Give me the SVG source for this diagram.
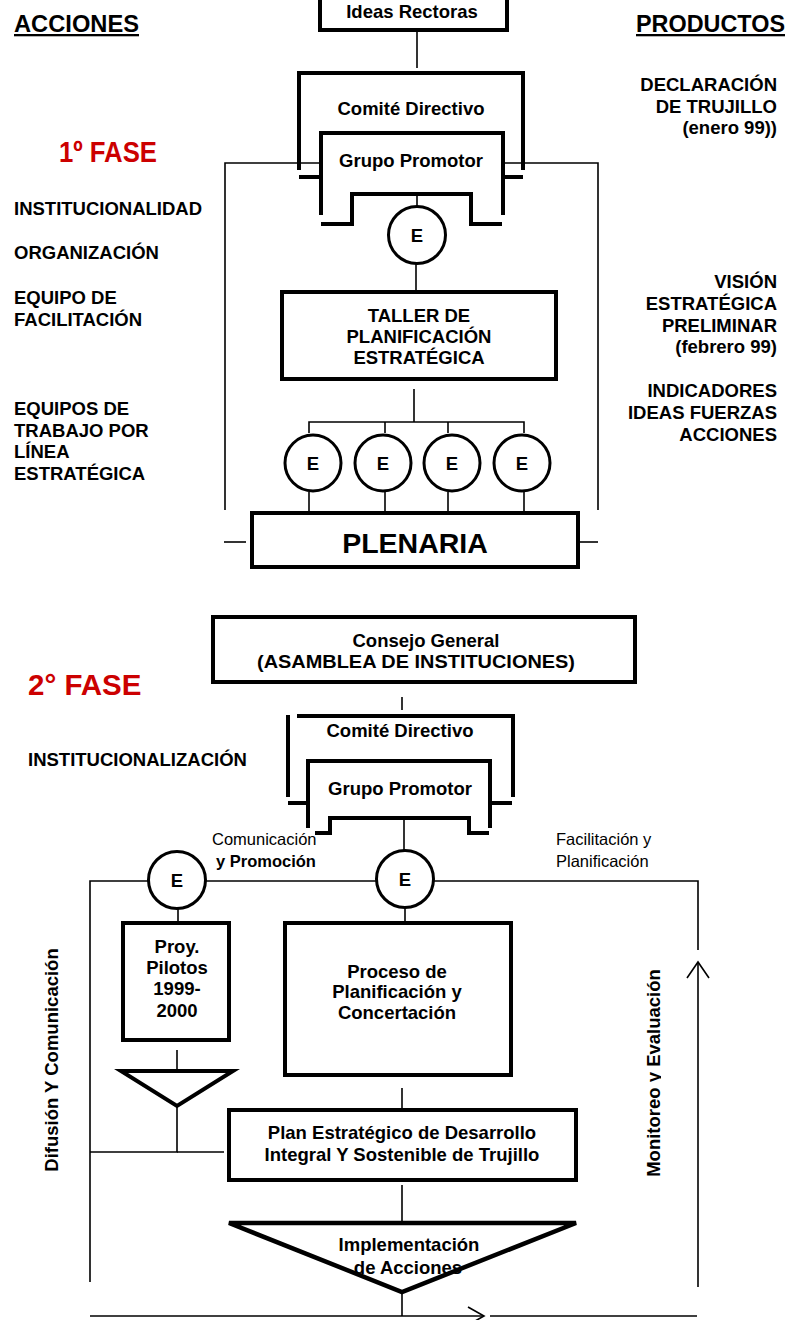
<svg xmlns="http://www.w3.org/2000/svg" width="789" height="1320" viewBox="0 0 789 1320">
<defs>
<style>
text{font-family:"Liberation Sans",Arial,sans-serif;fill:#000}
.b{font-weight:bold;font-size:18.5px}
.r{font-weight:normal;font-size:16.5px}
.m{text-anchor:middle}
.e{text-anchor:end}
.red{fill:#cc0000;font-weight:bold}
.thick{fill:none;stroke:#000;stroke-width:4}
.thin{fill:none;stroke:#000;stroke-width:1.6}
.box{fill:#fff;stroke:#000;stroke-width:4}
.circ{fill:#fff;stroke:#000;stroke-width:3}
</style>
<clipPath id="clipM"><rect x="600" y="900" width="61" height="320"/></clipPath>
</defs>
<rect width="789" height="1320" fill="#fff"/>

<g id="headers">
<text class="b" x="14" y="32" textLength="125" lengthAdjust="spacingAndGlyphs" text-decoration="underline" style="font-size:23px">ACCIONES</text>
<text class="b" x="636" y="32" textLength="149" lengthAdjust="spacingAndGlyphs" text-decoration="underline" style="font-size:23px">PRODUCTOS</text>
</g>

<g id="left-labels">
<text class="red" x="59" y="162" textLength="98" lengthAdjust="spacingAndGlyphs" style="font-size:30px">1º FASE</text>
<text class="b" x="14" y="215">INSTITUCIONALIDAD</text>
<text class="b" x="14" y="259">ORGANIZACIÓN</text>
<text class="b" x="14" y="304">EQUIPO DE</text>
<text class="b" x="14" y="326">FACILITACIÓN</text>
<text class="b" x="14" y="415">EQUIPOS DE</text>
<text class="b" x="14" y="437">TRABAJO POR</text>
<text class="b" x="14" y="458">LÍNEA</text>
<text class="b" x="14" y="480">ESTRATÉGICA</text>
<text class="red" x="28" y="695" style="font-size:29.5px">2° FASE</text>
<text class="b" x="28" y="766">INSTITUCIONALIZACIÓN</text>
</g>

<g id="right-labels">
<text class="b e" x="777" y="91">DECLARACIÓN</text>
<text class="b e" x="777" y="113">DE TRUJILLO</text>
<text class="b e" x="777" y="134">(enero 99))</text>
<text class="b e" x="777" y="288">VISIÓN</text>
<text class="b e" x="777" y="310">ESTRATÉGICA</text>
<text class="b e" x="777" y="332">PRELIMINAR</text>
<text class="b e" x="777" y="353">(febrero 99)</text>
<text class="b e" x="777" y="397">INDICADORES</text>
<text class="b e" x="777" y="419">IDEAS FUERZAS</text>
<text class="b e" x="777" y="441">ACCIONES</text>
</g>

<g id="connectors">
<line class="thin" x1="417" y1="30" x2="417" y2="68"/>
<polyline class="thin" points="225,510 225,163 321,163"/>
<polyline class="thin" points="503,163 598,163 598,510"/>
<line class="thin" x1="417" y1="194" x2="417" y2="207"/>
<line class="thin" x1="416" y1="264" x2="416" y2="292"/>
<line class="thin" x1="414" y1="389" x2="414" y2="422"/>
<polyline class="thin" points="309,433 309,422 524,422 524,433"/>
<line class="thin" x1="385" y1="422" x2="385" y2="433"/>
<line class="thin" x1="448" y1="422" x2="448" y2="433"/>
<line class="thin" x1="309" y1="492" x2="309" y2="513"/>
<line class="thin" x1="385" y1="492" x2="385" y2="513"/>
<line class="thin" x1="448" y1="492" x2="448" y2="513"/>
<line class="thin" x1="524" y1="492" x2="524" y2="513"/>
<line class="thin" x1="224" y1="542" x2="246" y2="542"/>
<line class="thin" x1="580" y1="542" x2="598" y2="542"/>
<line class="thin" x1="402" y1="697" x2="402" y2="710"/>
<line class="thin" x1="404" y1="818" x2="404" y2="850"/>
<polyline class="thin" points="90,1282 90,881 149,881"/>
<line class="thin" x1="206" y1="881" x2="376" y2="881"/>
<polyline class="thin" points="434,881 698,881 698,950"/>
<line class="thin" x1="698" y1="962" x2="698" y2="1287"/>
<polyline class="thin" points="687,978 698,962 709,978"/>
<line class="thin" x1="178" y1="908" x2="178" y2="923"/>
<line class="thin" x1="405" y1="908" x2="405" y2="923"/>
<line class="thin" x1="177" y1="1050" x2="177" y2="1070"/>
<polyline class="thin" points="177,1106 177,1152 90,1152"/>
<line class="thin" x1="177" y1="1152" x2="224" y2="1152"/>
<line class="thin" x1="402" y1="1088" x2="402" y2="1108"/>
<line class="thin" x1="402" y1="1185" x2="402" y2="1221"/>
<line class="thin" x1="402" y1="1293" x2="402" y2="1316"/>
<line class="thin" x1="90" y1="1316" x2="484" y2="1316"/>
<polyline class="thin" points="468,1307 484,1316 468,1325"/>
<line class="thin" x1="490" y1="1316" x2="697" y2="1316"/>
</g>

<g id="ideas-rectoras">
<rect class="box" x="320" y="-25" width="187" height="55"/>
<text class="b m" x="412" y="18">Ideas Rectoras</text>
</g>

<g id="comite-directivo-1">
<polyline class="thick" points="299,170 299,73 523,73 523,170"/>
<line class="thick" x1="299" y1="177" x2="321" y2="177"/>
<line class="thick" x1="503" y1="177" x2="523" y2="177"/>
<text class="b m" x="411" y="115">Comité Directivo</text>
</g>

<g id="grupo-promotor-1">
<polyline class="thick" points="321,215 321,133 503,133 503,215"/>
<polyline class="thick" points="321,224 352,224 352,194 471,194 471,224 502,224"/>
<text class="b m" x="411" y="167">Grupo Promotor</text>
</g>

<g id="e-1">
<circle class="circ" cx="417" cy="235" r="28.5"/>
<text class="b m" x="417" y="242">E</text>
</g>

<g id="taller">
<rect class="box" x="282" y="292" width="274" height="87"/>
<text class="b m" x="419" y="322">TALLER DE</text>
<text class="b m" x="419" y="343">PLANIFICACIÓN</text>
<text class="b m" x="419" y="364">ESTRATÉGICA</text>
</g>

<g id="e-a"><circle class="circ" cx="313" cy="463" r="28"/><text class="b m" x="313" y="470">E</text></g>
<g id="e-b"><circle class="circ" cx="383" cy="463" r="28"/><text class="b m" x="383" y="470">E</text></g>
<g id="e-c"><circle class="circ" cx="452" cy="463" r="28"/><text class="b m" x="452" y="470">E</text></g>
<g id="e-d"><circle class="circ" cx="522" cy="463" r="28"/><text class="b m" x="522" y="470">E</text></g>

<g id="plenaria">
<rect class="box" x="252" y="513" width="326" height="54"/>
<text class="b m" x="415" y="553" style="font-size:28.5px">PLENARIA</text>
</g>

<g id="consejo-general">
<rect class="box" x="213" y="617" width="422" height="65"/>
<text class="b m" x="426" y="647">Consejo General</text>
<text class="b m" x="416" y="668" textLength="318" lengthAdjust="spacingAndGlyphs">(ASAMBLEA DE INSTITUCIONES)</text>
</g>

<g id="comite-directivo-2">
<line class="thick" x1="288" y1="715" x2="288" y2="797"/>
<polyline class="thick" points="297,716 513,716 513,797"/>
<line class="thick" x1="288" y1="803" x2="308" y2="803"/>
<line class="thick" x1="490" y1="803" x2="512" y2="803"/>
<text class="b m" x="400" y="737">Comité Directivo</text>
</g>

<g id="grupo-promotor-2">
<polyline class="thick" points="308,828 308,761 490,761 490,828"/>
<polyline class="thick" points="315,833 330,833 330,818 469,818 469,833 489,833"/>
<text class="b m" x="400" y="795">Grupo Promotor</text>
</g>

<g id="labels-2">
<text class="r" x="212" y="845">Comunicación</text>
<text class="b" x="216" y="867" style="font-size:16.5px">y Promoción</text>
<text class="r" x="556" y="845">Facilitación y</text>
<text class="r" x="556" y="867">Planificación</text>
<text class="b m" x="58" y="1060" transform="rotate(-90 58 1060)">Difusión Y Comunicación</text>
<g clip-path="url(#clipM)">
<text class="b m" x="660" y="1073" transform="rotate(-90 660 1073)">Monitoreo y Evaluación</text>
</g>
</g>

<g id="e-comunicacion">
<circle class="circ" cx="177" cy="880" r="28.5"/>
<text class="b m" x="177" y="887">E</text>
</g>

<g id="e-facilitacion">
<circle class="circ" cx="405" cy="879" r="28.5"/>
<text class="b m" x="405" y="886">E</text>
</g>

<g id="proyectos-pilotos">
<rect class="box" x="123" y="923" width="106" height="117"/>
<text class="b m" x="177" y="953">Proy.</text>
<text class="b m" x="177" y="974">Pilotos</text>
<text class="b m" x="177" y="995">1999-</text>
<text class="b m" x="177" y="1017">2000</text>
</g>

<g id="proceso">
<rect class="box" x="285" y="923" width="226" height="152"/>
<text class="b m" x="397" y="978">Proceso de</text>
<text class="b m" x="397" y="998">Planificación y</text>
<text class="b m" x="397" y="1019">Concertación</text>
</g>

<g id="triangulo-pilotos">
<polygon class="thick" points="121,1071 233,1071 177,1106" fill="#fff"/>
</g>

<g id="plan-estrategico">
<rect class="box" x="229" y="1110" width="347" height="70"/>
<text class="b m" x="402" y="1139">Plan Estratégico de Desarrollo</text>
<text class="b m" x="402" y="1161">Integral Y Sostenible de Trujillo</text>
</g>

<g id="implementacion">
<text class="b m" x="409" y="1251">Implementación</text>
<text class="b m" x="408" y="1274">de Acciones</text>
<polygon points="229,1223 576,1223 402,1292" fill="none" stroke="#000" stroke-width="4.5"/>
</g>
</svg>
